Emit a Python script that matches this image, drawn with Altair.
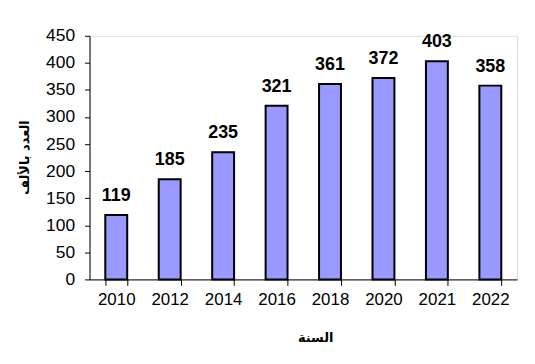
import altair as alt
import pandas as pd

years = ["2010", "2012", "2014", "2016", "2018", "2020", "2021", "2022"]
values = [119, 185, 235, 321, 361, 372, 403, 358]

df = pd.DataFrame({"year": years, "value": values})

x = alt.X("year:N", sort=years,
          scale=alt.Scale(paddingInner=0.59, paddingOuter=0.295),
          axis=alt.Axis(title="السنة", labelAngle=0, tickBand="extent",
                        labelFontSize=17, labelFont="Liberation Sans", labelColor="black",
                        labelPadding=6, tickSize=6, tickColor="black", domainColor="black",
                        labelOverlap=False,
                        titleFont="DejaVu Sans", titleFontSize=13, titleFontWeight="bold",
                        titleX=227, titleY=58, titleBaseline="middle", titleColor="black"))
y = alt.Y("value:Q",
          scale=alt.Scale(domain=[0, 450], nice=False),
          axis=alt.Axis(title="العدد بالألف", values=list(range(0, 451, 50)), grid=False,
                        labelFontSize=17.5, labelFont="Liberation Sans", labelColor="black",
                        labelPadding=10, tickSize=5, tickColor="black", domainColor="black",
                        labelOverlap=False, labelFlush=False,
                        titleFont="DejaVu Sans", titleFontSize=13, titleFontWeight="bold",
                        titleX=-65, titleY=122, titleAngle=-90, titleBaseline="middle",
                        titleAlign="center", titleColor="black"))

base = alt.Chart(df).encode(x=x, y=y)
bars = base.mark_bar(color="#9999FF", stroke="black", strokeWidth=2)
labels = base.mark_text(font="Liberation Sans", fontSize=18, fontWeight="bold",
                        baseline="middle", dy=-19, color="black").encode(text="value:Q")

chart = (bars + labels).properties(
    width=430, height=245,
    autosize=alt.AutoSizeParams(type="none"),
    padding={"left": 82, "top": 27, "right": 10, "bottom": 70},
).configure_view(strokeWidth=0).configure(background="white")

chart.save("out.html", embed_options={"renderer": "svg", "actions": False})
